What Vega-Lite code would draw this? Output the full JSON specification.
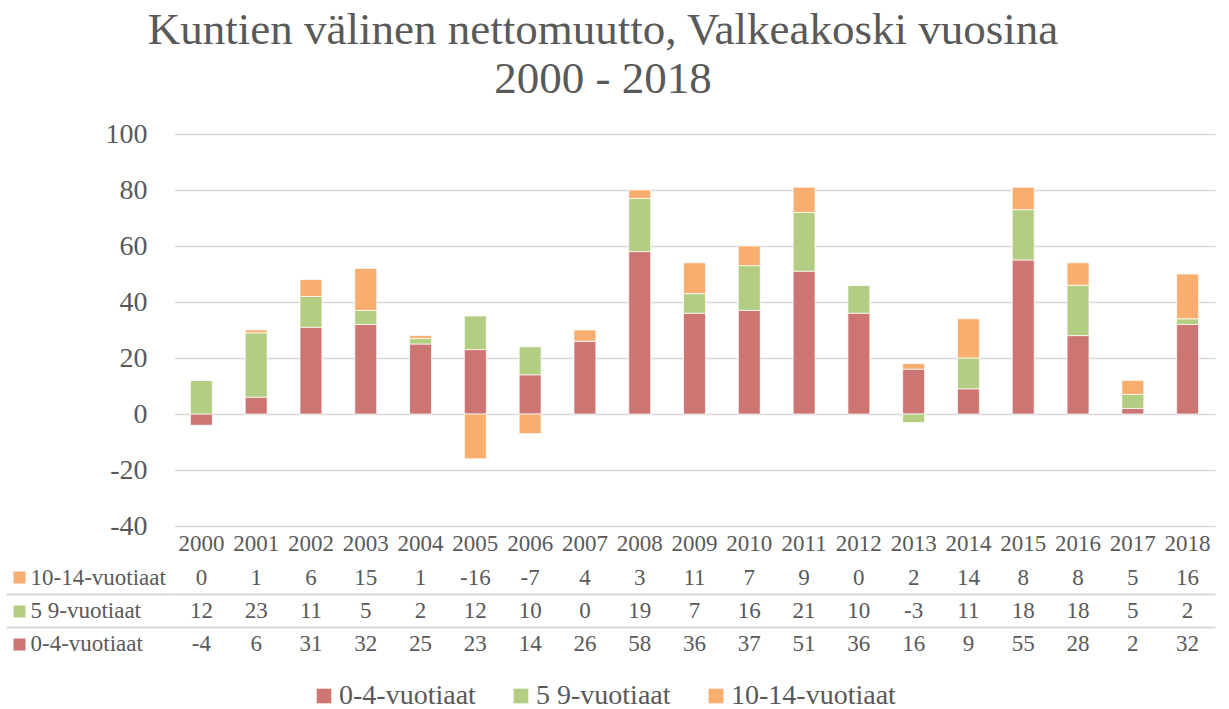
{
  "$schema": "https://vega.github.io/schema/vega-lite/v6.json",
  "padding": {"left": 5, "top": 8, "right": 10, "bottom": 0},
  "background": "#ffffff",
  "config": {
    "font": "Liberation Serif",
    "view": {"stroke": null},
    "axis": {"labelColor": "#595959", "labelFont": "Liberation Serif"},
    "legend": {"labelColor": "#595959", "labelFont": "Liberation Serif"}
  },
  "title": {
    "text": ["Kuntien välinen nettomuutto, Valkeakoski vuosina", "2000 - 2018"],
    "fontSize": 45,
    "lineHeight": 49,
    "fontWeight": "normal",
    "color": "#595959",
    "anchor": "middle",
    "dx": -7,
    "offset": 18
  },
  "data": {
    "values": [
      {"year": "2000", "series": "0-4-vuotiaat", "value": -4},
      {"year": "2001", "series": "0-4-vuotiaat", "value": 6},
      {"year": "2002", "series": "0-4-vuotiaat", "value": 31},
      {"year": "2003", "series": "0-4-vuotiaat", "value": 32},
      {"year": "2004", "series": "0-4-vuotiaat", "value": 25},
      {"year": "2005", "series": "0-4-vuotiaat", "value": 23},
      {"year": "2006", "series": "0-4-vuotiaat", "value": 14},
      {"year": "2007", "series": "0-4-vuotiaat", "value": 26},
      {"year": "2008", "series": "0-4-vuotiaat", "value": 58},
      {"year": "2009", "series": "0-4-vuotiaat", "value": 36},
      {"year": "2010", "series": "0-4-vuotiaat", "value": 37},
      {"year": "2011", "series": "0-4-vuotiaat", "value": 51},
      {"year": "2012", "series": "0-4-vuotiaat", "value": 36},
      {"year": "2013", "series": "0-4-vuotiaat", "value": 16},
      {"year": "2014", "series": "0-4-vuotiaat", "value": 9},
      {"year": "2015", "series": "0-4-vuotiaat", "value": 55},
      {"year": "2016", "series": "0-4-vuotiaat", "value": 28},
      {"year": "2017", "series": "0-4-vuotiaat", "value": 2},
      {"year": "2018", "series": "0-4-vuotiaat", "value": 32},
      {"year": "2000", "series": "5 9-vuotiaat", "value": 12},
      {"year": "2001", "series": "5 9-vuotiaat", "value": 23},
      {"year": "2002", "series": "5 9-vuotiaat", "value": 11},
      {"year": "2003", "series": "5 9-vuotiaat", "value": 5},
      {"year": "2004", "series": "5 9-vuotiaat", "value": 2},
      {"year": "2005", "series": "5 9-vuotiaat", "value": 12},
      {"year": "2006", "series": "5 9-vuotiaat", "value": 10},
      {"year": "2007", "series": "5 9-vuotiaat", "value": 0},
      {"year": "2008", "series": "5 9-vuotiaat", "value": 19},
      {"year": "2009", "series": "5 9-vuotiaat", "value": 7},
      {"year": "2010", "series": "5 9-vuotiaat", "value": 16},
      {"year": "2011", "series": "5 9-vuotiaat", "value": 21},
      {"year": "2012", "series": "5 9-vuotiaat", "value": 10},
      {"year": "2013", "series": "5 9-vuotiaat", "value": -3},
      {"year": "2014", "series": "5 9-vuotiaat", "value": 11},
      {"year": "2015", "series": "5 9-vuotiaat", "value": 18},
      {"year": "2016", "series": "5 9-vuotiaat", "value": 18},
      {"year": "2017", "series": "5 9-vuotiaat", "value": 5},
      {"year": "2018", "series": "5 9-vuotiaat", "value": 2},
      {"year": "2000", "series": "10-14-vuotiaat", "value": 0},
      {"year": "2001", "series": "10-14-vuotiaat", "value": 1},
      {"year": "2002", "series": "10-14-vuotiaat", "value": 6},
      {"year": "2003", "series": "10-14-vuotiaat", "value": 15},
      {"year": "2004", "series": "10-14-vuotiaat", "value": 1},
      {"year": "2005", "series": "10-14-vuotiaat", "value": -16},
      {"year": "2006", "series": "10-14-vuotiaat", "value": -7},
      {"year": "2007", "series": "10-14-vuotiaat", "value": 4},
      {"year": "2008", "series": "10-14-vuotiaat", "value": 3},
      {"year": "2009", "series": "10-14-vuotiaat", "value": 11},
      {"year": "2010", "series": "10-14-vuotiaat", "value": 7},
      {"year": "2011", "series": "10-14-vuotiaat", "value": 9},
      {"year": "2012", "series": "10-14-vuotiaat", "value": 0},
      {"year": "2013", "series": "10-14-vuotiaat", "value": 2},
      {"year": "2014", "series": "10-14-vuotiaat", "value": 14},
      {"year": "2015", "series": "10-14-vuotiaat", "value": 8},
      {"year": "2016", "series": "10-14-vuotiaat", "value": 8},
      {"year": "2017", "series": "10-14-vuotiaat", "value": 5},
      {"year": "2018", "series": "10-14-vuotiaat", "value": 16}
    ]
  },
  "spacing": 6,
  "vconcat": [
    {
      "width": 1041,
      "height": 392,
      "transform": [
        {"calculate": "indexof(['0-4-vuotiaat', '5 9-vuotiaat', '10-14-vuotiaat'], datum.series)", "as": "stackOrder"}
      ],
      "mark": {"type": "bar", "stroke": "#ffffff", "strokeWidth": 1, "strokeOpacity": 0.7},
      "encoding": {
        "x": {
          "field": "year",
          "type": "ordinal",
          "scale": {"paddingInner": 0.6, "paddingOuter": 0.3},
          "axis": {"title": null, "labelAngle": 0, "ticks": false, "domain": false, "grid": false, "labelPadding": 6, "labelFontSize": 23}
        },
        "y": {
          "field": "value",
          "type": "quantitative",
          "stack": "zero",
          "scale": {"domain": [-40, 100], "nice": false},
          "axis": {
            "title": null,
            "values": [-40, -20, 0, 20, 40, 60, 80, 100],
            "labelExpr": "replace(datum.label, '−', '-')",
            "grid": true,
            "gridColor": "#d9d9d9",
            "gridWidth": 1.5,
            "ticks": false,
            "domain": false,
            "labelPadding": 27,
            "labelFontSize": 28
          }
        },
        "order": {"field": "stackOrder", "type": "quantitative", "sort": "ascending"},
        "color": {
          "field": "series",
          "type": "nominal",
          "sort": ["0-4-vuotiaat", "5 9-vuotiaat", "10-14-vuotiaat"],
          "scale": {
            "domain": ["0-4-vuotiaat", "5 9-vuotiaat", "10-14-vuotiaat"],
            "range": ["#cd7573", "#b3cd82", "#f7ae6e"]
          },
          "legend": {
            "orient": "none",
            "legendX": 136,
            "legendY": 548,
            "direction": "horizontal",
            "title": null,
            "symbolType": "square",
            "symbolSize": 215,
            "symbolStrokeWidth": 0,
            "labelOffset": 1,
            "labelFontSize": 28,
            "labelLimit": 400,
            "columnPadding": 31
          }
        }
      }
    },
    {
      "width": 1041,
      "height": 100,
      "layer": [
        {
          "mark": {"type": "text", "fontSize": 23, "color": "#595959"},
          "encoding": {
            "x": {
              "field": "year",
              "type": "ordinal",
              "scale": {"paddingInner": 0.6, "paddingOuter": 0.3},
              "axis": null
            },
            "y": {
              "field": "series",
              "type": "nominal",
              "sort": ["10-14-vuotiaat", "5 9-vuotiaat", "0-4-vuotiaat"],
              "scale": {"type": "band", "paddingInner": 0, "paddingOuter": 0},
              "axis": {
                "title": null,
                "orient": "left",
                "domain": false,
                "grid": false,
                "ticks": true,
                "bandPosition": 0.5,
                "tickSize": 12,
                "tickWidth": 12,
                "tickColor": {"expr": "datum.value == '0-4-vuotiaat' ? '#cd7573' : datum.value == '5 9-vuotiaat' ? '#b3cd82' : '#f7ae6e'"},
                "offset": 149,
                "labelAlign": "left",
                "labelPadding": -17,
                "labelFontSize": 23
              }
            },
            "text": {"field": "value", "type": "nominal"}
          }
        },
        {
          "mark": {"type": "text", "opacity": 0},
          "encoding": {
            "y": {
              "field": "series",
              "type": "nominal",
              "sort": ["10-14-vuotiaat", "5 9-vuotiaat", "0-4-vuotiaat"],
              "scale": {"type": "band", "paddingInner": 0, "paddingOuter": 0},
              "axis": {
                "title": null,
                "orient": "left",
                "values": ["5 9-vuotiaat", "0-4-vuotiaat"],
                "bandPosition": 0,
                "labels": false,
                "domain": false,
                "ticks": true,
                "tickSize": 168,
                "tickWidth": 2,
                "tickColor": "#d9d9d9",
                "grid": true,
                "gridColor": "#d9d9d9",
                "gridWidth": 2
              }
            },
            "text": {"value": ""}
          }
        }
      ],
      "resolve": {"axis": {"y": "independent"}}
    }
  ]
}
